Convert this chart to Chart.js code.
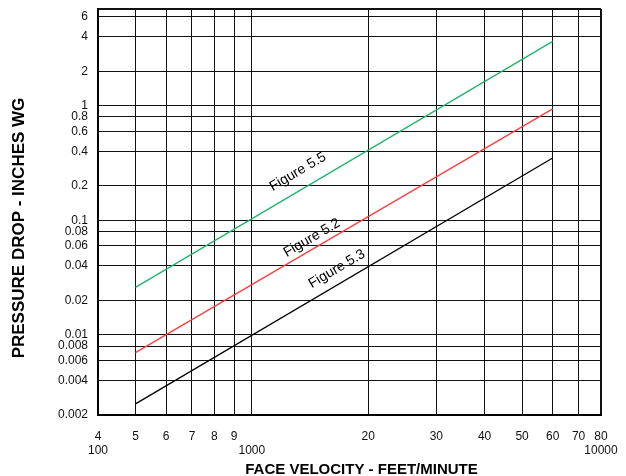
<!DOCTYPE html>
<html>
<head>
<meta charset="utf-8">
<script src="https://cdn.jsdelivr.net/npm/chart.js@4/dist/chart.umd.min.js"></script>
<style>
  html, body { margin: 0; padding: 0; background: #fff; }
  #wrap { width: 626px; height: 476px; }
</style>
</head>
<body>
<div id="wrap"><canvas id="pdChart"></canvas></div>
<script>
// face velocity (ft/min) at the two ends of every curve
const velocity = [500, 6000];

// pressure drop (in. WG)
const fig55 = [0.026, 3.65];
const fig52 = [0.007, 0.94];
const fig53 = [0.0025, 0.35];

// tick values and their labels
const xTickVals = [400, 500, 600, 700, 800, 900, 1000, 2000, 3000, 4000, 5000, 6000, 7000, 8000];
const xTickLabels = [['4', '100'], '5', '6', '7', '8', '9', ['', '1000'], '20', '30', '40', '50', '60', '70', ['80', '10000']];
const yTickVals = [0.002, 0.004, 0.006, 0.008, 0.01, 0.02, 0.04, 0.06, 0.08, 0.1, 0.2, 0.4, 0.6, 0.8, 1, 2, 4, 6, 7];
const yTickLabels = ['0.002', '0.004', '0.006', '0.008', '0.01', '0.02', '0.04', '0.06', '0.08', '0.1', '0.2', '0.4', '0.6', '0.8', '1', '2', '4', '6', ''];

// curve names and where their text sits (data coords)
const curveNames = ['Figure 5.5', 'Figure 5.2', 'Figure 5.3'];
const labelAtX = [1315, 1430, 1660];
const labelAtY = [0.265, 0.0703, 0.0377];

const xTitle = 'FACE VELOCITY - FEET/MINUTE';
const yTitle = 'PRESSURE DROP - INCHES WG';
const FONT = '"Liberation Sans", Arial, sans-serif';

function pts(ys) {
    return velocity.map((v, i) => ({ x: v, y: ys[i] }));
}

// writes the figure names along the lines, plus the axis titles
const curveLabels = {
    id: 'curveLabels',
    afterDatasetsDraw(chart) {
        const ctx = chart.ctx;
        const xs = chart.scales.x, ys = chart.scales.y;
        const area = chart.chartArea;
        chart.data.datasets.forEach((ds, i) => {
            const p0 = ds.data[0], p1 = ds.data[ds.data.length - 1];
            const ang = Math.atan2(ys.getPixelForValue(p1.y) - ys.getPixelForValue(p0.y),
                                   xs.getPixelForValue(p1.x) - xs.getPixelForValue(p0.x));
            ctx.save();
            ctx.translate(xs.getPixelForValue(labelAtX[i]), ys.getPixelForValue(labelAtY[i]));
            ctx.rotate(ang);
            ctx.font = '14px ' + FONT;
            ctx.fillStyle = '#000';
            ctx.textAlign = 'center';
            ctx.textBaseline = 'middle';
            ctx.fillText(curveNames[i], 0, 0);
            ctx.restore();
        });

        // axis titles (the original sits a bit off centre)
        ctx.save();
        ctx.fillStyle = '#000';
        ctx.textAlign = 'center';
        ctx.textBaseline = 'middle';
        ctx.font = 'bold 15px ' + FONT;
        ctx.fillText(xTitle, (area.left + area.right) / 2 + 12, area.bottom + 55);
        ctx.translate(19, (area.top + area.bottom) / 2 + 16);
        ctx.rotate(-Math.PI / 2);
        ctx.font = 'bold 17px ' + FONT;
        ctx.fillText(yTitle, 0, 0);
        ctx.restore();
    }
};

const ctx = document.getElementById('pdChart').getContext('2d');
const chart = new Chart(ctx, {
    type: 'line',
    data: {
        datasets: [
            { label: curveNames[0], data: pts(fig55), borderColor: '#1fb46c', borderWidth: 1.3, pointRadius: 0, fill: false },
            { label: curveNames[1], data: pts(fig52), borderColor: '#ff3b3b', borderWidth: 1.3, pointRadius: 0, fill: false },
            { label: curveNames[2], data: pts(fig53), borderColor: '#000000', borderWidth: 1.3, pointRadius: 0, fill: false }
        ]
    },
    options: {
        responsive: true,
        maintainAspectRatio: false,
        animation: false,
        layout: { padding: { top: 9, right: 25, left: 0, bottom: 0 } },
        plugins: {
            legend: { display: false },
            tooltip: { enabled: false }
        },
        scales: {
            x: {
                type: 'logarithmic',
                min: 400,
                max: 8000,
                afterBuildTicks: scale => { scale.ticks = xTickVals.map(v => ({ value: v })); },
                afterFit: scale => {
                    scale.height = 61;
                    scale.paddingLeft = 0;
                    scale.paddingRight = 0;
                },
                ticks: {
                    autoSkip: false,
                    maxRotation: 0,
                    padding: 14,
                    color: '#111',
                    font: { family: FONT, size: 12 },
                    callback: (v, i) => xTickLabels[i]
                },
                grid: {
                    color: '#111',
                    lineWidth: c => (c.tick && c.tick.value === 8000 ? 2 : 1),
                    drawTicks: false
                },
                border: { color: '#000', width: 2 }
            },
            y: {
                type: 'logarithmic',
                min: 0.002,
                max: 7,
                afterBuildTicks: scale => { scale.ticks = yTickVals.map(v => ({ value: v })); },
                afterFit: scale => {
                    scale.width = 98;
                    scale.paddingTop = 0;
                    scale.paddingBottom = 0;
                },
                ticks: {
                    autoSkip: false,
                    padding: 10,
                    color: '#111',
                    font: { family: FONT, size: 12 },
                    callback: (v, i) => yTickLabels[i]
                },
                grid: {
                    color: '#111',
                    lineWidth: c => (c.tick && c.tick.value === 7 ? 2 : 1),
                    drawTicks: false
                },
                border: { color: '#000', width: 2 }
            }
        }
    },
    plugins: [curveLabels]
});
</script>
</body>
</html>
